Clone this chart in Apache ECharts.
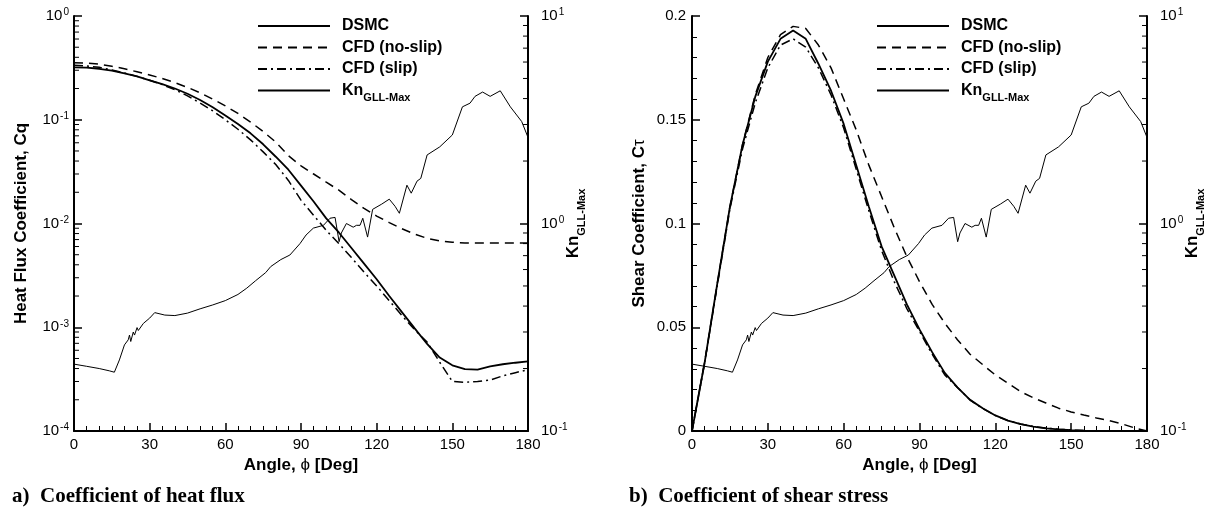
<!DOCTYPE html>
<html><head><meta charset="utf-8">
<script src="https://cdn.jsdelivr.net/npm/echarts@6/dist/echarts.min.js"></script>
<style>html,body{margin:0;padding:0;background:#fff}#c{width:1209px;height:510px}</style>
</head><body><div id="c"></div>
<script>
// ---- data ----
const angles = [0,5,10,15,20,25,30,35,40,45,50,55,60,65,70,75,80,85,90,95,100,105,110,115,120,125,130,135,140,145,150,155,160,165,170,175,180];
const cqDSMC = [0.32,0.318,0.31,0.297,0.28,0.262,0.24,0.22,0.2,0.178,0.155,0.132,0.11,0.091,0.074,0.058,0.044,0.033,0.0232,0.0163,0.0112,0.0082,0.0058,0.0041,0.0029,0.002,0.0014,0.00098,0.00069,0.00051,0.00043,0.000395,0.00039,0.00042,0.00044,0.000455,0.00047];
const cqNoSlip = [0.355,0.352,0.343,0.328,0.31,0.29,0.27,0.25,0.228,0.205,0.182,0.158,0.136,0.115,0.095,0.077,0.061,0.045,0.036,0.03,0.025,0.021,0.017,0.014,0.0118,0.0102,0.0089,0.0079,0.0072,0.0068,0.0066,0.0065,0.0065,0.0065,0.0065,0.0065,0.0065];
const cqSlip = [0.335,0.33,0.32,0.302,0.282,0.262,0.24,0.218,0.195,0.17,0.145,0.122,0.1,0.081,0.064,0.049,0.037,0.026,0.0168,0.012,0.0086,0.0064,0.0047,0.0034,0.0025,0.0018,0.0013,0.00095,0.00072,0.00046,0.0003,0.000295,0.0003,0.00031,0.00034,0.000365,0.00039];
const ctDSMC = [0,0.033,0.071,0.108,0.138,0.161,0.178,0.189,0.193,0.189,0.177,0.164,0.148,0.128,0.108,0.089,0.075,0.061,0.049,0.038,0.028,0.021,0.015,0.011,0.0075,0.005,0.0033,0.0021,0.0013,0.0008,0.0004,0.0002,0.0001,0.00005,0,0,0];
const ctNoSlip = [0,0.033,0.071,0.108,0.138,0.162,0.18,0.191,0.195,0.194,0.186,0.175,0.16,0.145,0.128,0.113,0.098,0.084,0.072,0.061,0.052,0.044,0.037,0.032,0.027,0.023,0.019,0.016,0.0135,0.011,0.0092,0.0077,0.0063,0.005,0.0035,0.0015,0];
const ctSlip = [0,0.033,0.07,0.107,0.136,0.158,0.175,0.186,0.189,0.185,0.175,0.162,0.146,0.126,0.106,0.087,0.072,0.059,0.048,0.037,0.027,0.021,0.015,0.0108,0.0075,0.005,0.0034,0.0022,0.0014,0.0009,0.0005,0.0002,0.0001,0,0,0,0];
const knAngles = [0,5,10,14,16,18,20,21.5,22,22.5,23.5,24,25,25.5,27.5,30,32,36,40,45,50,55,60,65,68.5,72,76,78,82,85.6,89.6,92,94.9,98.9,101.5,103.5,105.1,106,108,110.7,112,113.4,114.5,116.4,118.4,122,125,127.3,129,132,133.7,136,137.5,140,145,150,154,157,159,162,165,169,173,177.5,180];
const knValues = [0.21,0.205,0.2,0.195,0.192,0.22,0.26,0.275,0.29,0.27,0.3,0.29,0.315,0.305,0.33,0.35,0.372,0.362,0.36,0.37,0.388,0.405,0.425,0.455,0.488,0.53,0.58,0.62,0.67,0.705,0.8,0.88,0.95,0.98,1.06,1.07,0.817,0.9,1.0,0.96,0.98,0.98,1.06,0.86,1.17,1.24,1.31,1.21,1.12,1.53,1.4,1.6,1.65,2.14,2.34,2.67,3.65,3.8,4.1,4.3,4.1,4.36,3.65,3.1,2.6];
const xTicks = [0,30,60,90,120,150,180];
const minorMult = [2,3,4,5,6,7,8,9];
const cqDecades = [1e-4,1e-3,1e-2,1e-1];
const knDecades = [0.1,1];
const legendNames = ['DSMC','CFD (no-slip)','CFD (slip)','KnGLL-Max'];
const captions = ['a)  Coefficient of heat flux','b)  Coefficient of shear stress'];

const FONT = '"Liberation Sans", Arial, Helvetica, sans-serif';
const SERIF = '"Liberation Serif", "Times New Roman", serif';
const pair = (xs, ys) => xs.map((a, k) => [a, ys[k]]);
const minorList = decs => { const o = []; decs.forEach(d => minorMult.forEach(m => o.push(+(d*m).toPrecision(3)))); return o; };

const styles = {
  'DSMC': {color:'#000', width:1.8, type:'solid'},
  'CFD (no-slip)': {color:'#000', width:1.5, type:[9,6]},
  'CFD (slip)': {color:'#000', width:1.5, type:[9,4,2,4]},
  'KnGLL-Max': {color:'#000', width:1, type:'solid'}
};
function line(name, xs, ys, xi, yi) {
  return {type:'line', name, xAxisIndex:xi, yAxisIndex:yi, data:pair(xs, ys), symbol:'none',
    lineStyle:styles[name], itemStyle:{color:'#000'}, animation:false, silent:true, clip:true};
}
function minorTicks(vals, xi, yi, xAt, dir) {
  return {type:'custom', xAxisIndex:xi, yAxisIndex:yi, silent:true, animation:false,
    data: vals.map(v => [xAt, v]), encode:{x:0, y:1},
    renderItem: (p, api) => { const c = api.coord([api.value(0), api.value(1)]);
      return {type:'line', shape:{x1:c[0], y1:c[1], x2:c[0]+dir*5, y2:c[1]}, style:{stroke:'#000', lineWidth:1}}; }};
}
const supFmt = v => '10{s|' + Math.round(Math.log10(v)) + '}';
const supRich = {s:{fontSize:10, verticalAlign:'top', fontFamily:FONT, color:'#000', padding:[0,0,7,1]}};

const axisLine = {show:true, onZero:false, lineStyle:{color:'#000', width:2}};
const tick = {show:true, inside:true, length:8, lineStyle:{color:'#000', width:1.5}};
const minorTick = n => ({show:true, splitNumber:n, length:5, lineStyle:{color:'#000', width:1}});
const label = (extra) => Object.assign({color:'#000', fontFamily:FONT, fontSize:15}, extra || {});
const nameStyle = {color:'#000', fontFamily:FONT, fontSize:17, fontWeight:'bold'};

function xAxis(gi) {
  return {type:'value', gridIndex:gi, min:xTicks[0], max:xTicks[xTicks.length-1], interval:30,
    axisLine, axisTick:tick, minorTick:minorTick(6), splitLine:{show:false},
    axisLabel:label({margin:6}),
    name:'Angle, {p|ϕ} [Deg]', nameLocation:'middle', nameGap:15,
    nameTextStyle:Object.assign({}, nameStyle, {rich:{p:{fontFamily:FONT, fontSize:17, fontWeight:'normal', color:'#000'}}})};
}
function knAxis(gi) {
  return {type:'log', gridIndex:gi, position:'right', min:0.1, max:10, logBase:10,
    axisLine, axisTick:tick, splitLine:{show:false},
    axisLabel:label({margin:13, formatter:supFmt, rich:supRich}),
    name:'{k|Kn}{g|GLL-Max}', nameLocation:'middle', nameRotate:90, nameGap:35, nameMoveOverlap:false,
    nameTextStyle:{rich:{k:{fontFamily:FONT, fontSize:17, fontWeight:'bold', color:'#000', lineHeight:20},
      g:{fontFamily:FONT, fontSize:11, fontWeight:'bold', color:'#000', verticalAlign:'bottom', lineHeight:20, padding:[0,0,-4,0]}}}};
}
function legend(left) {
  return {orient:'vertical', left, top:13, itemWidth:72, itemHeight:14, itemGap:5.5,
    data:legendNames, selectedMode:false,
    itemStyle:{opacity:0, borderWidth:0},
    formatter: n => n === 'KnGLL-Max' ? '{gp|}{t|Kn}{sb|GLL-Max}' : '{gp|}{t|' + n + '}',
    textStyle:{color:'#000', fontFamily:FONT, fontSize:16, fontWeight:'bold',
      rich:{gp:{width:7}, t:{fontFamily:FONT, fontSize:16, fontWeight:'bold', color:'#000'},
        sb:{fontFamily:FONT, fontSize:11, fontWeight:'bold', color:'#000', verticalAlign:'bottom', padding:[0,0,-5,0]}}}};
}

const option = {
  backgroundColor:'#fff', animation:false,
  grid:[{left:74, top:16, width:454, height:415}, {left:692, top:16, width:455, height:415}],
  xAxis:[xAxis(0), xAxis(1)],
  yAxis:[
    {type:'log', gridIndex:0, position:'left', min:1e-4, max:1, logBase:10,
      axisLine, axisTick:tick, splitLine:{show:false},
      axisLabel:label({margin:5, formatter:supFmt, rich:supRich}),
      name:'Heat Flux Coefficient, Cq', nameLocation:'middle', nameRotate:90, nameGap:44, nameTextStyle:nameStyle},
    knAxis(0),
    {type:'value', gridIndex:1, position:'left', min:0, max:0.2, interval:0.05,
      axisLine, axisTick:tick, minorTick:minorTick(5), splitLine:{show:false},
      axisLabel:label({margin:6}),
      name:'Shear Coefficient, C{p|τ}', nameLocation:'middle', nameRotate:90, nameGap:44,
      nameTextStyle:Object.assign({}, nameStyle, {rich:{p:{fontFamily:FONT, fontSize:17, fontWeight:'normal', color:'#000'}}})},
    knAxis(1)
  ],
  legend:[legend(252), legend(871)],
  series:[
    line('DSMC', angles, cqDSMC, 0, 0),
    line('CFD (no-slip)', angles, cqNoSlip, 0, 0),
    line('CFD (slip)', angles, cqSlip, 0, 0),
    line('KnGLL-Max', knAngles, knValues, 0, 1),
    line('DSMC', angles, ctDSMC, 1, 2),
    line('CFD (no-slip)', angles, ctNoSlip, 1, 2),
    line('CFD (slip)', angles, ctSlip, 1, 2),
    line('KnGLL-Max', knAngles, knValues, 1, 3),
    minorTicks(minorList(cqDecades), 0, 0, xTicks[0], 1),
    minorTicks(minorList(knDecades), 0, 1, xTicks[xTicks.length-1], -1),
    minorTicks(minorList(knDecades), 1, 3, xTicks[xTicks.length-1], -1)
  ],
  graphic:[
    {type:'text', left:12, top:486, style:{text:captions[0], font:'bold 21px ' + SERIF, fill:'#000'}},
    {type:'text', left:629, top:486, style:{text:captions[1], font:'bold 21px ' + SERIF, fill:'#000'}}
  ]
};
const chart = echarts.init(document.getElementById('c'), null, {renderer:'canvas'});
chart.setOption(option);
</script></body></html>
